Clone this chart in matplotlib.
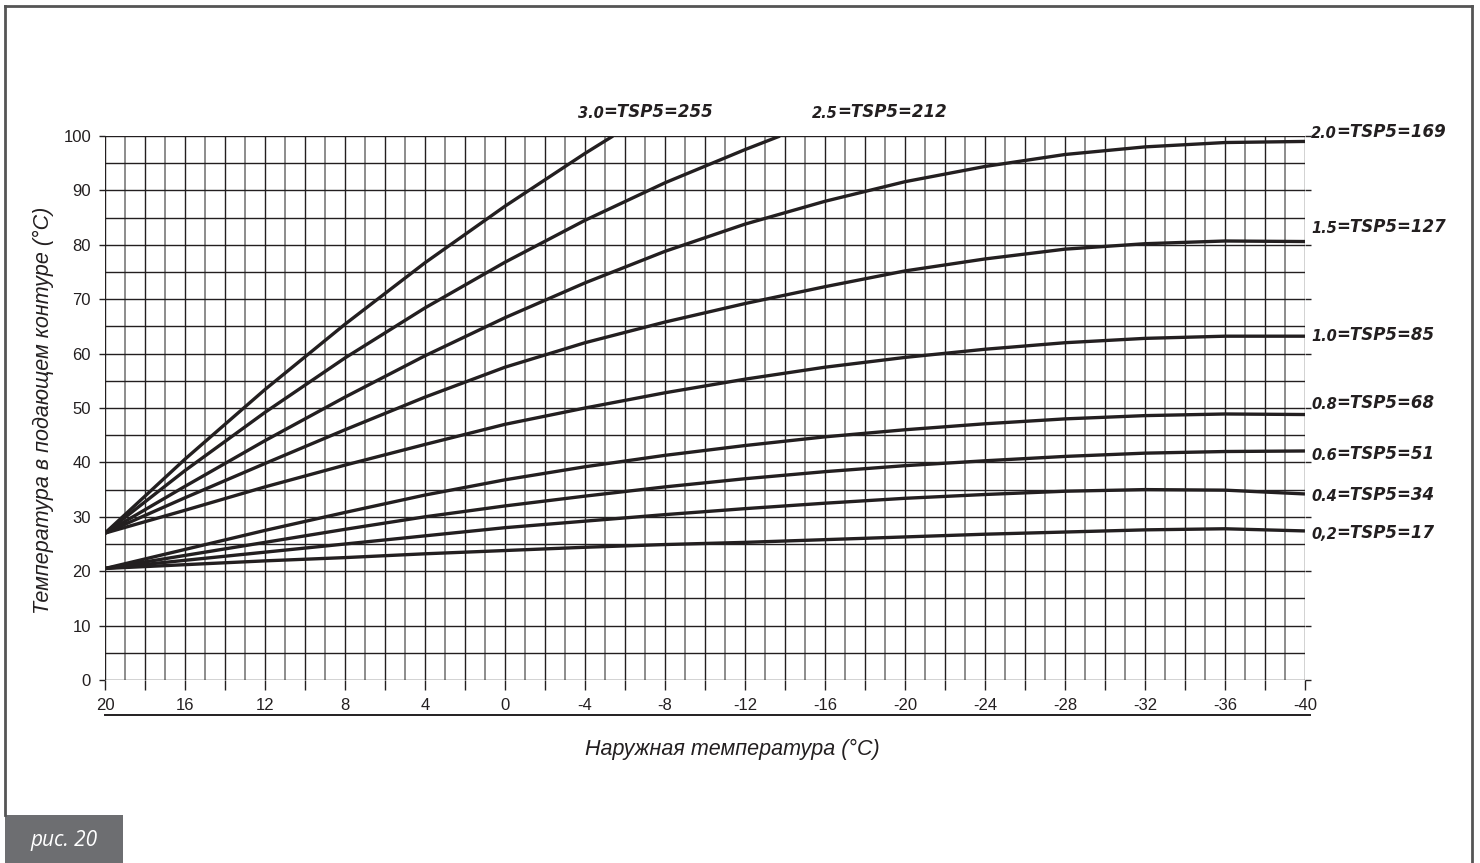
import matplotlib
matplotlib.use('Agg')
import matplotlib.pyplot as plt
from matplotlib.lines import Line2D
from matplotlib.patches import Rectangle

# outside temperature, deg C
temps = [20, 16, 12, 8, 4, 0, -4, -8, -12, -16, -20, -24, -28, -32, -36, -40]

# steep curves leave the chart at 100 deg
t_30 = [20, 16, 12, 8, 4, 0, -4, -5.4]
v_30 = [27, 40.6, 53.4, 65.4, 76.7, 87.1, 96.8, 100]
t_25 = [20, 16, 12, 8, 4, 0, -4, -8, -12, -13.75]
v_25 = [27, 38.5, 49.2, 59.2, 68.4, 76.8, 84.5, 91.4, 97.5, 100]

v_20 = [27, 35.6, 44.0, 52.0, 59.6, 66.6, 73.0, 78.8, 83.8, 88.0, 91.6, 94.4, 96.6, 98.0, 98.8, 99.0]
v_15 = [27, 33.5, 39.8, 46, 52, 57.5, 62, 65.8, 69.2, 72.3, 75.2, 77.4, 79.2, 80.2, 80.7, 80.6]
v_10 = [27, 31.2, 35.5, 39.5, 43.3, 47, 50, 52.8, 55.3, 57.5, 59.3, 60.8, 62.0, 62.8, 63.2, 63.2]
v_08 = [20.5, 24, 27.5, 30.8, 34, 36.8, 39.2, 41.3, 43.1, 44.7, 46.0, 47.1, 48.0, 48.6, 48.9, 48.8]
v_06 = [20.5, 22.9, 25.3, 27.7, 30.0, 32.0, 33.8, 35.5, 37.0, 38.3, 39.4, 40.3, 41.1, 41.7, 42.0, 42.1]
v_04 = [20.5, 22.0, 23.5, 25.0, 26.5, 28.0, 29.2, 30.4, 31.5, 32.5, 33.4, 34.1, 34.7, 35.0, 34.9, 34.2]
v_02 = [20.5, 21.2, 21.9, 22.5, 23.2, 23.8, 24.4, 24.9, 25.3, 25.8, 26.3, 26.8, 27.2, 27.6, 27.8, 27.4]

label_prefix = ['3.0', '2.5', '2.0', '1.5', '1.0', '0.8', '0.6', '0.4', '0,2']
label_rest = ['=TSP5=255', '=TSP5=212', '=TSP5=169', '=TSP5=127', '=TSP5=85',
              '=TSP5=68', '=TSP5=51', '=TSP5=34', '=TSP5=17']

xtick_labels = ['20', '16', '12', '8', '4', '0', '-4', '-8', '-12', '-16',
                '-20', '-24', '-28', '-32', '-36', '-40']

ink = '#231f20'
W, H = 1480, 863
fig = plt.figure(figsize=(14.8, 8.63), dpi=100)
ax = fig.add_axes([105 / W, 1 - 680 / H, 1200 / W, 544 / H])

# grid: 1 deg verticals (even darker), 5 deg horizontals
for t in range(20, -41, -1):
    if t % 2 == 0:
        ax.axvline(t, color=ink, lw=1.0, zorder=1)
    else:
        ax.axvline(t, color='#8c8c8c', lw=1.4, zorder=1)
for v in range(0, 101, 5):
    ax.axhline(v, color=ink, lw=1.0, zorder=1)

curves = [(t_30, v_30), (t_25, v_25), (temps, v_20), (temps, v_15), (temps, v_10),
          (temps, v_08), (temps, v_06), (temps, v_04), (temps, v_02)]
for xs, ys in curves:
    ax.plot(xs, ys, color=ink, lw=2.4, solid_capstyle='butt', solid_joinstyle='round', zorder=3)

ax.set_xlim(20, -40)
ax.set_ylim(0, 100)
for s in ax.spines.values():
    s.set_visible(False)

ax.set_xticks(range(20, -41, -4))
ax.set_xticklabels(xtick_labels, fontsize=12, family='Liberation Sans')
ax.set_xticks(range(20, -41, -2), minor=True)
ax.set_yticks(range(0, 101, 10))
ax.set_yticklabels([str(v) for v in range(0, 101, 10)], fontsize=12, family='Liberation Sans')
ax.tick_params(axis='x', which='both', length=7, width=1, color=ink, pad=6)
ax.tick_params(axis='y', length=4, width=1, color=ink, pad=6, right=True)
for lab in ax.get_xticklabels() + ax.get_yticklabels():
    lab.set_color(ink)

# rule under the x tick labels
ax.add_line(Line2D([0, 1.004], [-0.0643, -0.0643], transform=ax.transAxes,
                   color=ink, lw=1.4, clip_on=False))

fig.text(732 / W, 1 - 749 / H, 'Наружная температура (°C)', fontsize=15.5, style='italic',
         family='Liberation Sans', color=ink, ha='center', va='center')
fig.text(43 / W, 1 - 410 / H, 'Температура в подающем контуре (°C)', fontsize=15.5,
         style='italic', family='Liberation Sans', color=ink, ha='center', va='center',
         rotation=90)

# curve labels: small prefix, bigger rest
label_pos = [(-3.65, 103.4), (-15.35, 103.4), (-40.3, 99.6), (-40.3, 82.2),
             (-40.3, 62.3), (-40.3, 49.8), (-40.3, 40.4), (-40.3, 32.9), (-40.3, 25.9)]
for pre, rest, (x, y) in zip(label_prefix, label_rest, label_pos):
    t = ax.text(x, y, pre, fontsize=10.5, fontweight='bold', style='italic',
                family='DejaVu Sans', color=ink, va='baseline', clip_on=False)
    ax.annotate(rest, xy=(1, 0), xycoords=t, xytext=(-0.5, 0), textcoords='offset points',
                fontsize=12, fontweight='bold', style='italic', family='DejaVu Sans',
                color=ink, va='bottom', annotation_clip=False)

# outer frame and figure tag
frame_col = '#555555'
fig.add_artist(Line2D([5 / W, 5 / W], [1 - 815 / H, 1 - 6 / H], color=frame_col, lw=2))
fig.add_artist(Line2D([5 / W, 1472 / W], [1 - 6 / H, 1 - 6 / H], color=frame_col, lw=2))
fig.add_artist(Line2D([1472 / W, 1472 / W], [0, 1 - 6 / H], color=frame_col, lw=2))
fig.add_artist(Rectangle((5 / W, 0), 118 / W, 48 / H, transform=fig.transFigure,
                         facecolor='#6d6e71', edgecolor='none'))
fig.text(64 / W, 1 - 840 / H, 'рис. 20', color='white', fontsize=15, style='italic',
         family='Open Sans', ha='center', va='center')

fig.savefig('out.png', dpi=100)
